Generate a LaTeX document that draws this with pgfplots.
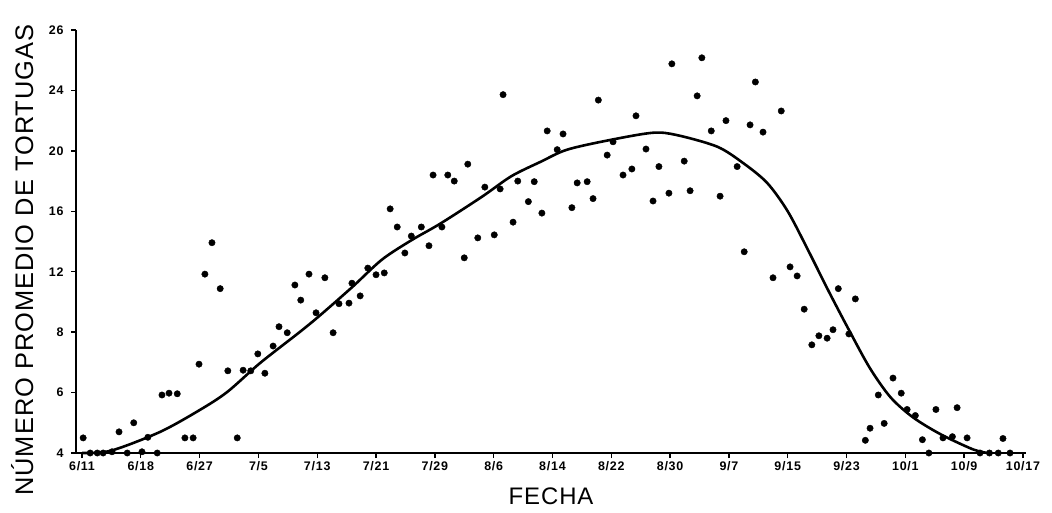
\documentclass[border=0pt]{standalone}
\usepackage{fontspec}
\setmainfont{Liberation Sans}
\newfontfamily\labfont[LetterSpace=4]{Liberation Sans}
\newfontfamily\tickfont[LetterSpace=6]{Liberation Sans}
\usepackage{pgfplots}
\usepackage{pgfplotstable}
\pgfplotsset{compat=1.18}

% y is in tick positions: 0..7 carry the printed labels 4,6,8,12,16,20,24,26
% x is in tick positions: 0..16 carry the dates 6/11 ... 10/17
\pgfplotstableread{
x y
0.02 0.25
0.14 0.00
0.26 0.00
0.36 0.00
0.51 0.02
0.63 0.35
0.77 0.00
0.88 0.50
1.02 0.02
1.12 0.26
1.28 0.00
1.36 0.96
1.48 0.99
1.62 0.98
1.75 0.25
1.89 0.25
1.99 1.47
2.09 2.96
2.21 3.48
2.35 2.72
2.48 1.36
2.64 0.25
2.74 1.37
2.87 1.36
2.99 1.64
3.11 1.32
3.25 1.77
3.35 2.09
3.49 1.99
3.62 2.78
3.72 2.53
3.86 2.96
3.98 2.32
4.13 2.90
4.27 1.99
4.37 2.47
4.54 2.48
4.59 2.81
4.73 2.60
4.86 3.06
5.00 2.95
5.14 2.98
5.24 4.04
5.36 3.74
5.49 3.31
5.60 3.59
5.77 3.74
5.90 3.43
5.97 4.60
6.12 3.74
6.22 4.60
6.33 4.50
6.50 3.23
6.56 4.78
6.73 3.56
6.85 4.40
7.01 3.61
7.11 4.37
7.16 5.93
7.33 3.82
7.41 4.50
7.59 4.16
7.69 4.49
7.82 3.97
7.91 5.33
8.08 5.02
8.18 5.28
8.33 4.06
8.42 4.47
8.59 4.49
8.69 4.21
8.78 5.84
8.93 4.93
9.03 5.15
9.20 4.60
9.35 4.70
9.42 5.58
9.59 5.03
9.71 4.17
9.81 4.74
9.98 4.30
10.03 6.44
10.24 4.83
10.34 4.34
10.46 5.91
10.54 6.54
10.70 5.33
10.85 4.25
10.95 5.50
11.14 4.74
11.26 3.33
11.36 5.43
11.45 6.14
11.58 5.31
11.75 2.90
11.89 5.66
12.04 3.08
12.16 2.93
12.28 2.38
12.41 1.79
12.53 1.94
12.67 1.90
12.77 2.04
12.86 2.72
13.04 1.97
13.15 2.55
13.32 0.21
13.40 0.41
13.54 0.96
13.64 0.49
13.79 1.24
13.93 0.99
14.03 0.72
14.17 0.62
14.29 0.22
14.40 0.00
14.52 0.72
14.64 0.25
14.80 0.27
14.88 0.75
15.05 0.25
15.27 0.00
15.43 0.00
15.58 0.00
15.66 0.24
15.78 0.00
}\puntos

\pgfplotstableread{
x y
0.00 0.00
0.50 0.04
1.33 0.35
2.00 0.71
2.47 1.01
3.03 1.49
3.70 2.00
4.05 2.28
4.60 2.75
5.10 3.20
5.60 3.52
6.10 3.80
6.80 4.24
7.30 4.58
7.80 4.82
8.25 5.02
8.98 5.18
9.71 5.30
10.12 5.26
10.80 5.07
11.24 4.80
11.65 4.47
12.00 4.00
12.35 3.35
12.70 2.67
13.05 2.02
13.40 1.40
13.75 0.92
14.13 0.59
14.60 0.31
15.15 0.06
15.40 0.00
}\curva

\begin{document}
\begin{tikzpicture}
\useasboundingbox (0,0) rectangle (1052bp,513bp);
\begin{axis}[
  at={(76.1bp,60bp)}, anchor=south west,
  scale only axis, width=949.8bp, height=423bp,
  xmin=-0.1, xmax=16.05, ymin=0, ymax=7,
  axis x line*=bottom, axis y line*=left,
  axis line style={line width=1.6bp, black},
  xtick={0,...,16},
  xticklabels={6/11,6/18,6/27,7/5,7/13,7/21,7/29,8/6,8/14,8/22,8/30,9/7,9/15,9/23,10/1,10/9,10/17},
  ytick={0,...,7},
  yticklabels={4,6,8,12,16,20,24,26},
  tick align=outside, major tick length=5bp,
  tick style={line width=1.4bp, black},
  ticklabel style={font=\tickfont\bfseries\fontsize{12.5}{13}\selectfont},
  yticklabel style={xshift=-4bp},
  /pgf/number format/assume math mode=true,
  xlabel={FECHA},
  ylabel={NÚMERO PROMEDIO DE TORTUGAS},
  xlabel style={at={(axis description cs:0.5,-0.1206)}, anchor=base,
    font=\labfont\fontsize{24}{28}\selectfont},
  ylabel style={at={(axis description cs:-0.0453,0.456)}, anchor=base,
    font=\labfont\fontsize{25.5}{30}\selectfont},
  clip=false,
]
\addplot[only marks, mark=*, mark size=3.2bp, black] table {\puntos};
\addplot[smooth, line width=2.6bp, black] table {\curva};
\end{axis}
\end{tikzpicture}
\end{document}
